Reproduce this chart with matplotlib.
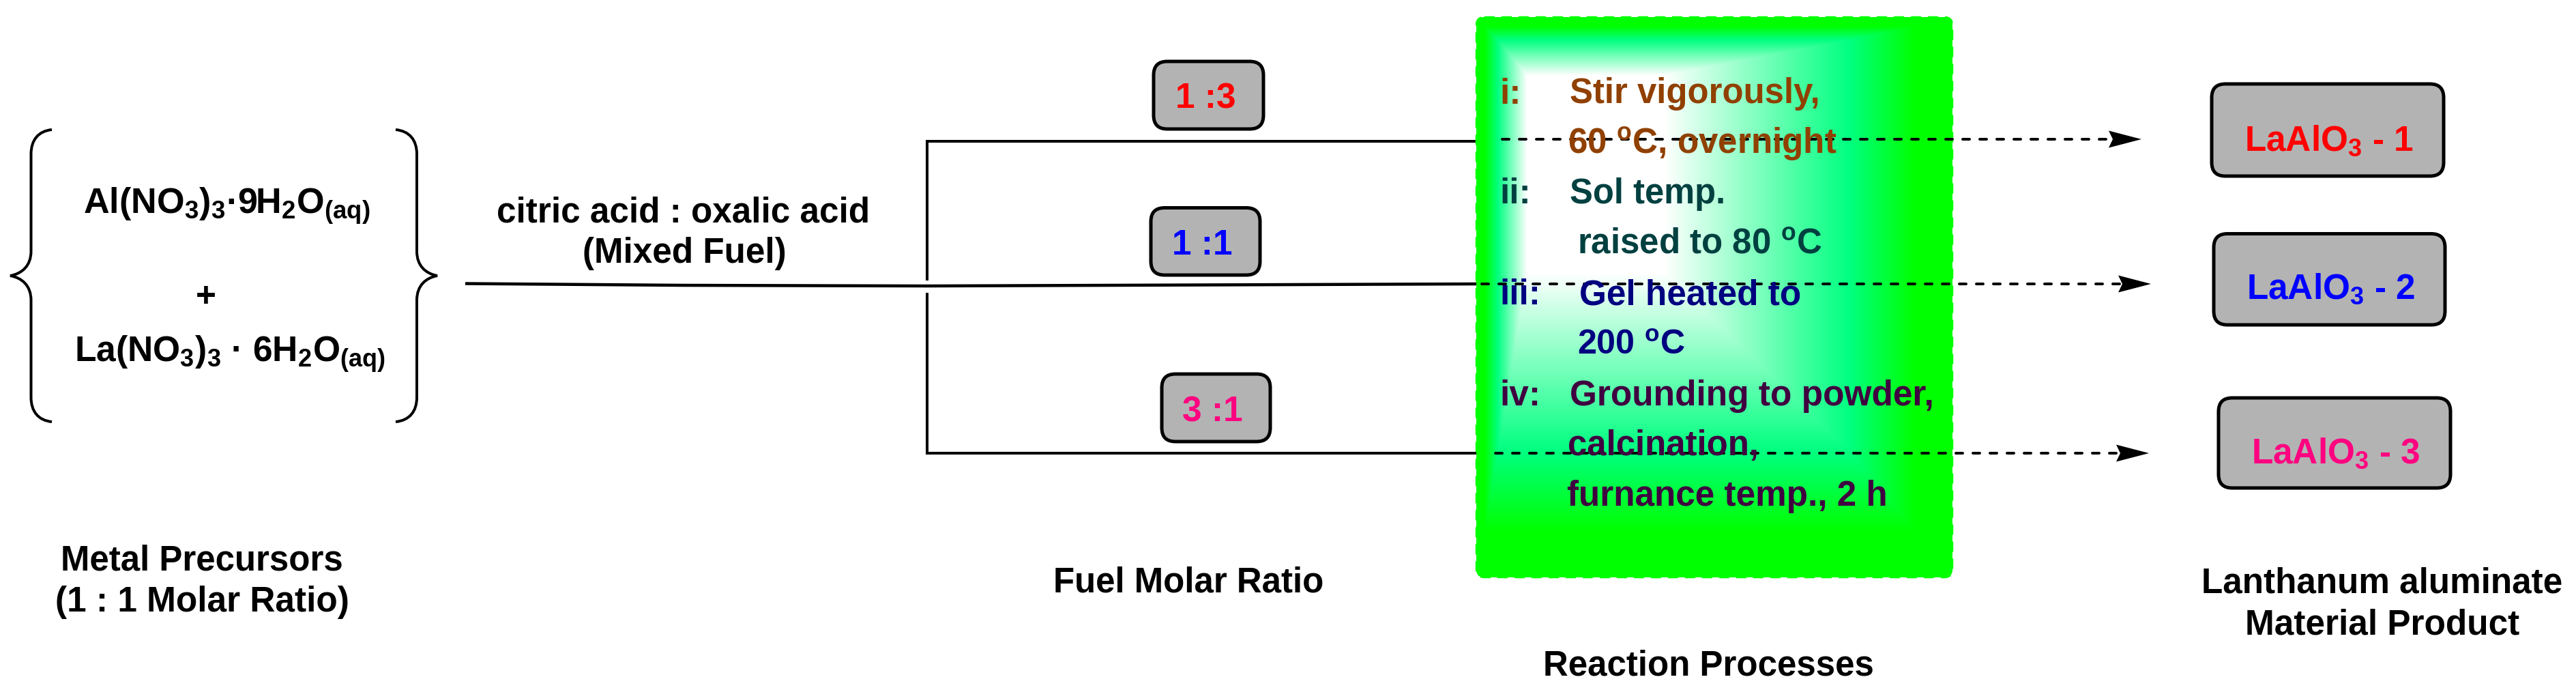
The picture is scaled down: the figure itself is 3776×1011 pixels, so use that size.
import numpy as np
import matplotlib
matplotlib.use("Agg")
import matplotlib.pyplot as plt
from matplotlib.patches import FancyBboxPatch, PathPatch, Polygon
from matplotlib.path import Path

plt.rcParams['font.family'] = ['Liberation Sans', 'DejaVu Sans']
plt.rcParams['mathtext.default'] = 'regular'

W, H = 3776, 1011

# ---- content ----
precursors = [r"Al(NO$_3$)$_3$·9H$_2$O$_{(aq)}$", "+", r"La(NO$_3$)$_3$ · 6H$_2$O$_{(aq)}$"]
fuel_label = ["citric acid : oxalic acid", "(Mixed Fuel)"]
ratios = ["1 :3", "1 :1", "3 :1"]
products = [r"LaAlO$_3$ - 1", r"LaAlO$_3$ - 2", r"LaAlO$_3$ - 3"]
series_colors = ["#FF0000", "#0000FF", "#FF0080"]
step_markers = ["i:", "ii:", "iii:", "iv:"]
step_lines = [
    ["Stir vigorously,", r"60 $^{o}$C, overnight"],
    ["Sol temp.", r"raised to 80 $^{o}$C"],
    ["Gel heated to", r"200 $^{o}$C"],
    ["Grounding to powder,", "calcination,", "furnance temp., 2 h"],
]
step_colors = ["#904000", "#004040", "#000080", "#400040"]
captions = ["Metal Precursors", "(1 : 1 Molar Ratio)", "Fuel Molar Ratio",
            "Reaction Processes", "Lanthanum aluminate", "Material Product"]

# ---- canvas in reference pixels ----
fig = plt.figure(figsize=(W / 100, H / 100), dpi=100)
ax = fig.add_axes([0, 0, 1, 1])
ax.set_xlim(0, W)
ax.set_ylim(H, 0)
ax.axis("off")
renderer = fig.canvas.get_renderer()
PX = 72 / 100


def label(s, x0, x1, base, color="black", z=6, size=None):
    """Text with left edge x0, baseline base; sized to end at x1 unless a size is given."""
    t = ax.text(x0, base, s, color=color, fontsize=size or 35, fontweight="bold",
                ha="left", va="baseline", zorder=z)
    if size is None:
        w = t.get_window_extent(renderer).width
        t.set_fontsize(35 * (x1 - x0) / w)
    return t


def rbox(x0, y0, x1, y1, r=20, fc="#B3B3B3", ec="black", lw=5, z=3):
    p = FancyBboxPatch((x0, y0), x1 - x0, y1 - y0,
                       boxstyle=f"round,pad=0,rounding_size={r}",
                       fc=fc, ec=ec, lw=lw * PX, zorder=z)
    ax.add_patch(p)
    return p


def dashed(x0, x1, y):
    ax.plot([x0, x1], [y, y], color="black", lw=4 * PX, zorder=4,
            linestyle=(0, (10 / 4, 15 / 4)), dash_capstyle="round")


def solid(xs, ys, lw=4):
    ax.plot(xs, ys, color="black", lw=lw * PX, zorder=2, solid_capstyle="butt",
            solid_joinstyle="miter")


def arrow(tip, y):
    ax.add_patch(Polygon([(tip, y), (tip - 48, y - 12.5), (tip - 42, y), (tip - 48, y + 12.5)],
                         closed=True, fc="black", ec="none", zorder=5))


def brace(xv, xtip, xend, ytop, ytip, ybot):
    c = 36
    codes = [Path.MOVETO, Path.CURVE4, Path.CURVE4, Path.CURVE4, Path.LINETO,
             Path.CURVE4, Path.CURVE4, Path.CURVE4, Path.CURVE4, Path.CURVE4, Path.CURVE4,
             Path.LINETO, Path.CURVE4, Path.CURVE4, Path.CURVE4]
    verts = [(xend, ytop), (xv + (xend - xv) * .35, ytop + 2), (xv, ytop + 15), (xv, ytop + c),
             (xv, ytip - c), (xv, ytip - 14), (xv + (xtip - xv) * .45, ytip - 3), (xtip, ytip),
             (xv + (xtip - xv) * .45, ytip + 3), (xv, ytip + 14), (xv, ytip + c),
             (xv, ybot - c), (xv, ybot - 15), (xv + (xend - xv) * .35, ybot - 2), (xend, ybot)]
    ax.add_patch(PathPatch(Path(verts, codes), fc="none", ec="black", lw=4 * PX, zorder=2))


# ---- left: precursors ----
brace(45.5, 15, 76, 190, 404, 618)
brace(611, 641, 580, 190, 404, 618)
label(precursors[0], 122, 543, 313)
label(precursors[1], 287, 0, 449, size=37)
label(precursors[2], 109, 565, 530)
label(fuel_label[0], 728, 1275, 325)
label(fuel_label[1], 854, 1153, 385)
label(captions[0], 89, 503, 836)
label(captions[1], 81, 512, 896)

# ---- branching lines ----
solid([682, 1000, 1359, 2165], [415.5, 418, 419, 416], lw=4.5)
solid([1359, 2165], [206.5, 206.5])
solid([1359, 2186], [664, 664])
solid([1359, 1359], [204.5, 411])
solid([1359, 1359], [429, 666])

# ---- green panel with a rectangular gradient ----
gx0, gx1, gy0, gy1 = 2164, 2862, 25, 846
xx, yy = np.meshgrid(np.arange(gx0, gx1 + 1), np.arange(gy0, gy1 + 1))
sides = [np.interp(2238 - xx, [0, 43, 62], [0, .74, 1]),
         np.interp(xx - 2440, [0, 272, 368], [0, .74, 1]),
         np.interp(110 - yy, [0, 52, 72], [0, .74, 1]),
         np.interp(yy - 400, [0, 262, 379], [0, .74, 1])]
t = np.maximum.reduce(sides)
stops = np.array([0, .74, 1])
img = np.dstack([np.interp(t, stops, [1, 0, 0]),
                 np.ones_like(t),
                 np.interp(t, stops, [1, .5, 0])])
panel = rbox(gx0, gy0, gx1, gy1, r=12, fc="#00FF00", ec="none", lw=0, z=3)
im = ax.imshow(img, extent=(gx0, gx1, gy1, gy0), zorder=3.1, aspect="auto", interpolation="bilinear")
im.set_clip_path(panel)
# slightly scalloped rim of the panel
ax.add_patch(FancyBboxPatch((gx0, gy0), gx1 - gx0, gy1 - gy0,
                            boxstyle="round,pad=0,rounding_size=12", fc="none", ec="#00FF00",
                            lw=2.5 * PX, linestyle=(0, (15 / 2.5, 10 / 2.5)), zorder=3.2))
ax.set_xlim(0, W)
ax.set_ylim(H, 0)

# dashed continuations lie above the panel
dashed(2172, 3153 - 42, 416)
dashed(2202, 3139 - 42, 204)
dashed(2192, 3150 - 42, 664)
arrow(3139, 204)
arrow(3153, 416)
arrow(3150, 664)

# panel text
marker_pos = [(2198, 151.5), (2198, 298), (2198, 446.5), (2198, 594)]
for m, (a, y), c in zip(step_markers, marker_pos, step_colors):
    label(m, a, 0, y, c, size=37)
line_pos = [
    [(2301, 2668, 151.5), (2298, 2693, 224.5)],
    [(2301, 2529, 298), (2312, 2671, 371.5)],
    [(2315, 2640, 446.5), (2312, 2470, 519)],
    [(2301, 2834, 594), (2298, 2578, 667), (2297, 2767, 741)],
]
for lines, pos, c in zip(step_lines, line_pos, step_colors):
    for s, (a, b, y) in zip(lines, pos):
        label(s, a, b, y, c)
label(captions[3], 2262, 2747, 989)

# ---- ratio pills ----
pill_pos = [(1691, 90, 1852, 189), (1687, 304.5, 1847, 403), (1703, 548, 1862, 647)]
ratio_pos = [(1723, 158.5), (1718, 373), (1733, 617)]
for s, c, bx, (x, y) in zip(ratios, series_colors, pill_pos, ratio_pos):
    rbox(*bx)
    label(s, x, 0, y, c, size=37)
label(captions[2], 1544, 1940, 868)

# ---- products ----
prod_box = [(3242, 123, 3582, 258), (3245, 342.5, 3584, 476), (3252, 583, 3592, 715)]
prod_pos = [(3290, 221), (3293, 438), (3300, 679)]
for s, c, bx, (x, y) in zip(products, series_colors, prod_box, prod_pos):
    rbox(*bx)
    label(s, x, 0, y, c, size=37)
label(captions[4], 3227, 3756, 868.5)
label(captions[5], 3291, 3693, 929)

fig.savefig("out.png", dpi=100, facecolor="white")
